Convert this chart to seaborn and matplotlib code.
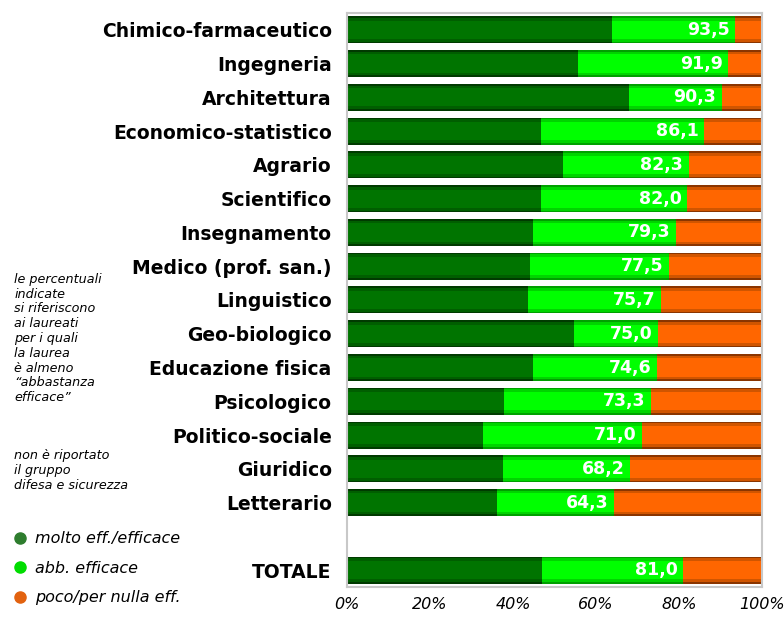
import pandas as pd
import matplotlib
matplotlib.use('Agg')
import matplotlib.pyplot as plt
from matplotlib.lines import Line2D
import seaborn as sns

# ---------- DATA ----------
categorie = ['Chimico-farmaceutico', 'Ingegneria', 'Architettura', 'Economico-statistico',
             'Agrario', 'Scientifico', 'Insegnamento', 'Medico (prof. san.)', 'Linguistico',
             'Geo-biologico', 'Educazione fisica', 'Psicologico', 'Politico-sociale',
             'Giuridico', 'Letterario', 'TOTALE']
# molto efficace
molto = [63.8, 55.7, 67.9, 46.7, 52.0, 46.7, 44.8, 44.1, 43.6, 54.7, 44.8, 37.8, 32.8,
         37.6, 36.1, 47.0]
# almeno abbastanza efficace (labels)
almeno = [93.5, 91.9, 90.3, 86.1, 82.3, 82.0, 79.3, 77.5, 75.7, 75.0, 74.6, 73.3, 71.0,
          68.2, 64.3, 81.0]
totale = [100] * len(categorie)

legenda = ['molto eff./efficace', 'abb. efficace', 'poco/per nulla eff.']

df = pd.DataFrame({'categoria': categorie, 'molto': molto, 'almeno': almeno, 'tot': totale})
order = categorie[:15] + [' '] + ['TOTALE']

# ---------- PLOT ----------
sns.set_style('white')
plt.rcParams['font.family'] = ['DejaVu Sans']
plt.rcParams['text.color'] = 'black'
plt.rcParams['xtick.color'] = 'black'
plt.rcParams['ytick.color'] = 'black'

fig = plt.figure(figsize=(7.84, 6.17), dpi=100)
ax = fig.add_axes([0.4426, 0.0486, 0.5294, 0.9304])

# each segment drawn in three layers to fake the shaded look
layers = [
    ('tot', ['#8a3500', '#d05500', '#ff6600']),
    ('almeno', ['#00a000', '#00d400', '#00ff00']),
    ('molto', ['#003a00', '#005e00', '#007400']),
]
for col, shades in layers:
    for w, c in zip([0.8, 0.7, 0.54], shades):
        sns.barplot(data=df, x=col, y='categoria', order=order, orient='h',
                    color=c, width=w, saturation=1, ax=ax, errorbar=None,
                    edgecolor='none', linewidth=0)

pos = {c: i for i, c in enumerate(order)}
for cat, v in zip(categorie, almeno):
    ax.annotate(f'{v:.1f}'.replace('.', ','), xy=(v, pos[cat]), xytext=(-4, 0),
                textcoords='offset points', ha='right', va='center',
                color='white', fontsize=12.5, fontweight='bold')

ax.set_xlim(0, 100)
ax.set_ylim(len(order) - 0.5, -0.5)
ax.set_xticks([0, 20, 40, 60, 80, 100])
ax.set_xticklabels(['0%', '20%', '40%', '60%', '80%', '100%'],
                   fontsize=11.5, fontstyle='italic')
ax.tick_params(axis='y', labelsize=13.5, length=0, pad=11)
ax.tick_params(axis='x', length=0, pad=7)
for lab in ax.get_yticklabels():
    lab.set_fontweight('bold')
ax.set_xlabel('')
ax.set_ylabel('')
for s in ax.spines.values():
    s.set_color('#c8c8c8')
    s.set_linewidth(1.5)

# ---------- NOTES ----------
fig.text(0.018, 0.558,
         'le percentuali\nindicate\nsi riferiscono\nai laureati\nper i quali\nla laurea\n'
         'è almeno\n\u201cabbastanza\nefficace\u201d',
         fontsize=9.2, fontstyle='italic', va='top', linespacing=1.18)
fig.text(0.018, 0.272, 'non è riportato\nil gruppo\ndifesa e sicurezza',
         fontsize=9.2, fontstyle='italic', va='top', linespacing=1.18)

handles = [Line2D([], [], marker='o', ls='', markersize=8, color=c)
           for c in ['#2e7d2e', '#00dd00', '#e2620f']]
fig.legend(handles, legenda, loc='upper left', bbox_to_anchor=(-0.003, 0.162),
           frameon=False, handlelength=1.0, handletextpad=0.45, labelspacing=0.9,
           prop={'size': 11.5, 'style': 'italic'})

fig.savefig('out.png', dpi=100)
